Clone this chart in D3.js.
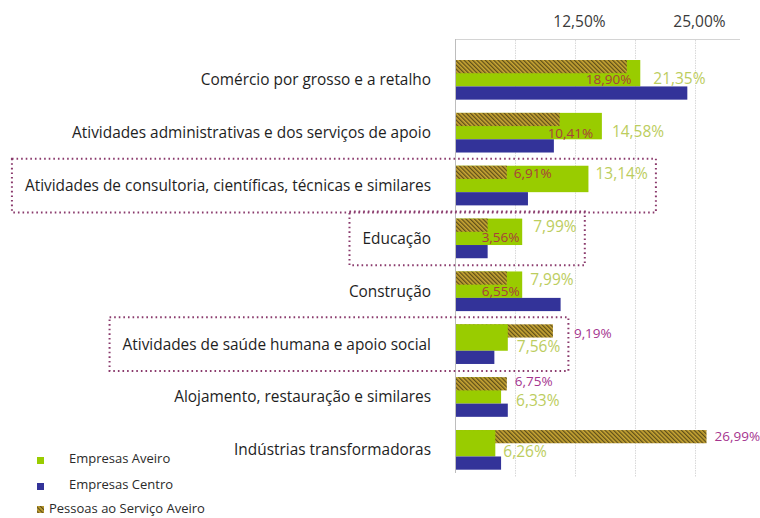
<!DOCTYPE html>
<html><head><meta charset="utf-8">
<script src="https://cdn.jsdelivr.net/npm/d3@7"></script>
<style>
html,body{margin:0;padding:0;background:#fff;}
svg{display:block;font-family:"Open Sans",sans-serif;}
</style></head>
<body><svg id="c" width="760" height="518"></svg>
<script>
// ---- data ----
const categories = [
  "Comércio por grosso e a retalho",
  "Atividades administrativas e dos serviços de apoio",
  "Atividades de consultoria, científicas, técnicas e similares",
  "Educação",
  "Construção",
  "Atividades de saúde humana e apoio social",
  "Alojamento, restauração e similares",
  "Indústrias transformadoras"
];
// bar lengths as drawn in the picture (%)
const pessoasAveiro  = [17.9, 10.9, 5.4, 3.4, 5.4, 10.2, 5.4, 26.2];
const empresasAveiro = [19.3, 15.3, 13.9, 7.0, 7.0, 5.5, 4.8, 4.2];
const empresasCentro = [24.2, 10.3, 7.6, 3.4, 11.0, 4.1, 5.5, 4.8];
// printed value labels
const pessoasLabels  = ["18,90%", "10,41%", "6,91%", "3,56%", "6,55%", "9,19%", "6,75%", "26,99%"];
const aveiroLabels   = ["21,35%", "14,58%", "13,14%", "7,99%", "7,99%", "7,56%", "6,33%", "6,26%"];
const tickValues = [12.5, 25];
const tickLabels = ["12,50%", "25,00%"];
const gridValues = [6.25, 12.5, 18.75, 25];
const highlighted = [2, 3, 5];
const seriesNames = ["Empresas Aveiro", "Empresas Centro", "Pessoas ao Serviço Aveiro"];

// ---- layout (not data) ----
const pessoasLabelOffset = [[-41,19],[-12,20],[7,8],[-6,19],[-25,20],[21,9],[8,4],[8,6]];
const aveiroLabelOffset  = [[13,19],[10,19],[7,8],[11,8],[8,8],[9,22],[15,23],[8,22]];
const pessoasOutside = [false,false,false,false,false,true,true,true];
const hatchOnTop     = [true,true,true,true,true,false,true,false];

const GREEN = "#99cc00", BLUE = "#333399";
const svg = d3.select("#c");
const defs = svg.append("defs");
const pat = defs.append("pattern").attr("id","hatch").attr("patternUnits","userSpaceOnUse")
  .attr("width",3).attr("height",3).attr("patternTransform","rotate(-45)");
pat.append("rect").attr("width",3).attr("height",3).attr("fill","#c9a634");
pat.append("rect").attr("width",1.3).attr("height",3).attr("fill","#5f4f18");

const x = d3.scaleLinear().domain([0, 30]).range([455, 743]);
const y = d3.scaleBand().domain(d3.range(categories.length)).range([53.4, 476.3])
  .paddingInner(0.25).paddingOuter(0.125);
const bw = y.bandwidth(), row = bw / 3;

// frame & gridlines
svg.append("line").attr("x1",x(0)).attr("x2",740).attr("y1",39.5).attr("y2",39.5)
  .attr("stroke","#d4d4d4").attr("stroke-width",1);
svg.append("g").selectAll("line").data(gridValues).join("line")
  .attr("x1",d=>Math.round(x(d))+0.5).attr("x2",d=>Math.round(x(d))+0.5)
  .attr("y1",40).attr("y2",477)
  .attr("stroke","#d9d9d9").attr("stroke-width",1).attr("stroke-dasharray","1.5 1");

// top axis labels
const axis = d3.axisTop(x).tickValues(tickValues).tickSize(0)
  .tickFormat((d,i)=>tickLabels[i]);
const ag = svg.append("g").attr("transform","translate(4,25)").call(axis);
ag.select(".domain").remove();
ag.selectAll("text").attr("font-size",15.5).attr("fill","#3a3a3a")
  .attr("font-family","'Open Sans',sans-serif").attr("dy","0.32em");

// bars
const g = svg.append("g");
categories.forEach((c,i)=>{
  const top = y(i);
  const grp = g.append("g");
  const green = {v: empresasAveiro[i], y: top, h: 2*row, fill: GREEN};
  const hatch = {v: pessoasAveiro[i], y: top, h: row, fill: "url(#hatch)"};
  const items = hatchOnTop[i] ? [green, hatch] : [hatch, green];
  items.forEach(it=>{
    grp.append("rect").attr("x",x(0)).attr("y",it.y).attr("width",x(it.v)-x(0))
      .attr("height",it.h).attr("fill",it.fill);
  });
  grp.append("rect").attr("x",x(0)).attr("y",top+2*row).attr("width",x(empresasCentro[i])-x(0))
    .attr("height",row).attr("fill",BLUE);
});

// axis line
svg.append("line").attr("x1",x(0)+0.5).attr("x2",x(0)+0.5).attr("y1",39).attr("y2",473)
  .attr("stroke","#bdbdbd").attr("stroke-width",1);

// category labels
const catText = svg.append("g").selectAll("text").data(categories).join("text")
  .attr("x",431).attr("y",(d,i)=>y(i)+bw/2).attr("dy","0.35em")
  .attr("text-anchor","end").attr("font-size",15.4).attr("fill","#1e1e1e").text(d=>d);

// value labels
const aveiroText = svg.append("g").selectAll("text").data(aveiroLabels).join("text")
  .attr("x",(d,i)=>x(empresasAveiro[i])+aveiroLabelOffset[i][0])
  .attr("y",(d,i)=>y(i)+aveiroLabelOffset[i][1]).attr("dy","0.35em")
  .attr("font-size",15.5).attr("fill","#bccd5e").text(d=>d);
svg.append("g").selectAll("text").data(pessoasLabels).join("text")
  .attr("x",(d,i)=>x(pessoasAveiro[i])+pessoasLabelOffset[i][0])
  .attr("y",(d,i)=>y(i)+pessoasLabelOffset[i][1]).attr("dy","0.35em")
  .attr("font-size",13.5).attr("fill",(d,i)=>pessoasOutside[i]?"#a5358f":"#a8403c").text(d=>d);

// highlight boxes
const catNodes = catText.nodes(), avNodes = aveiroText.nodes();
highlighted.forEach(i=>{
  const a = catNodes[i].getBBox(), b = avNodes[i].getBBox();
  const x0 = a.x - 13, x1 = b.x + b.width + 8;
  const y0 = y(i) - 7, y1 = y(i) + bw + 7;
  svg.append("rect").attr("x",x0).attr("y",y0).attr("width",x1-x0).attr("height",y1-y0)
    .attr("fill","none").attr("stroke","#8a3a6c").attr("stroke-width",2)
    .attr("stroke-dasharray","1.6 3");
});

// legend
const lg = svg.append("g");
const legendItems = [
  {name: seriesNames[0], fill: GREEN, sy: 457, ty: 458, tx: 69},
  {name: seriesNames[1], fill: BLUE, sy: 483, ty: 484, tx: 69},
  {name: seriesNames[2], fill: "url(#hatch)", sy: 506, ty: 508, tx: 49}
];
legendItems.forEach(it=>{
  lg.append("rect").attr("x",37).attr("y",it.sy).attr("width",7).attr("height",7).attr("fill",it.fill);
  lg.append("text").attr("x",it.tx).attr("y",it.ty).attr("dy","0.35em")
    .attr("font-size",13).attr("fill","#2a2a2a").text(it.name);
});
</script></body></html>
